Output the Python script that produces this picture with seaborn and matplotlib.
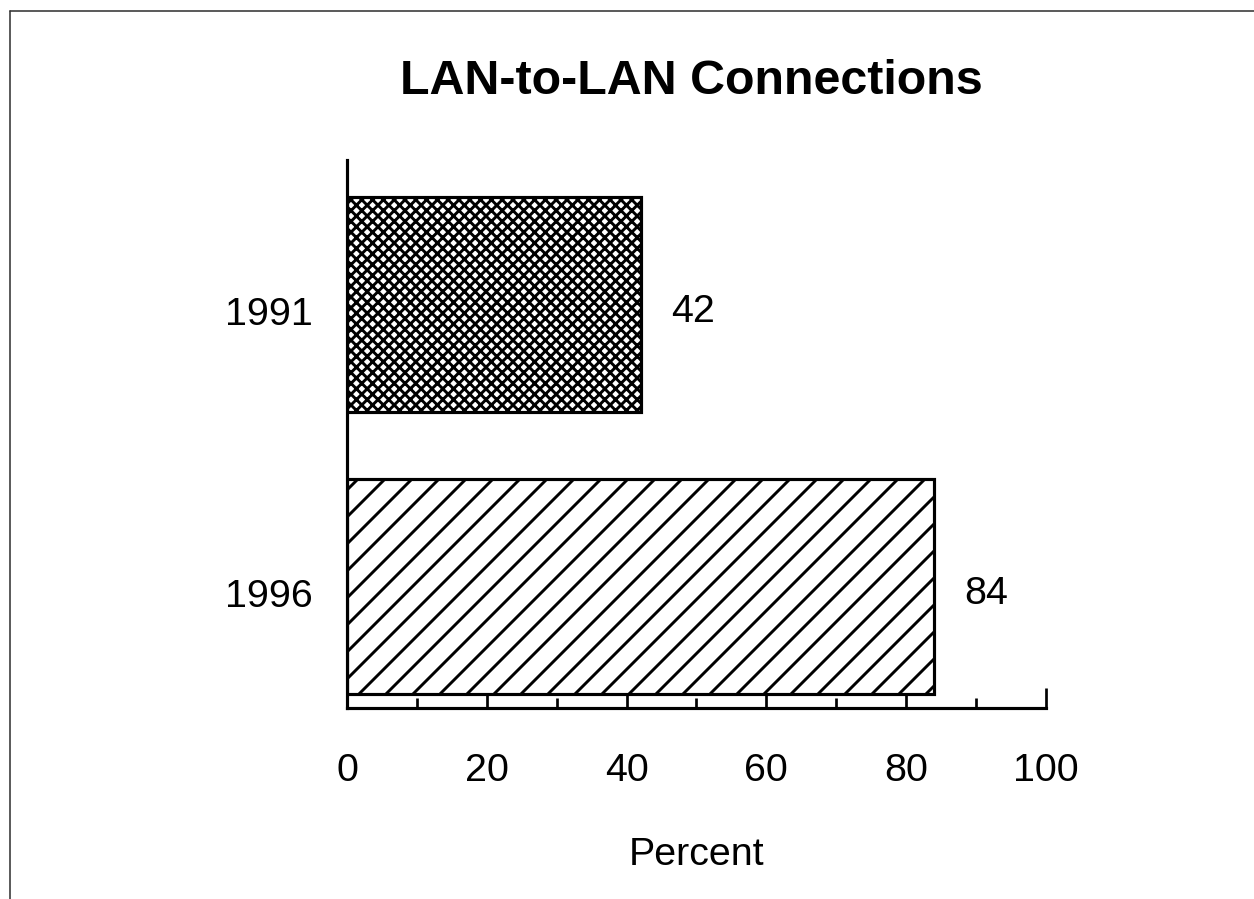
import matplotlib
matplotlib.use("Agg")
import matplotlib.pyplot as plt
from matplotlib.lines import Line2D
from matplotlib.transforms import ScaledTranslation
import seaborn as sns
import pandas as pd

# data
years = ["1991", "1996"]
percent = [42, 84]
hatches = ["xxxxx", "//"]

DPI = 162

sns.set_style("white")
plt.rcParams["font.family"] = ["Liberation Sans", "DejaVu Sans"]
plt.rcParams["text.color"] = "black"
plt.rcParams["xtick.color"] = "black"
plt.rcParams["ytick.color"] = "black"
plt.rcParams["axes.labelcolor"] = "black"
plt.rcParams["hatch.linewidth"] = 1.3
plt.rcParams["hatch.color"] = "black"

df = pd.DataFrame({"year": years, "percent": percent})

fig = plt.figure(figsize=(1254 / DPI, 899 / DPI), dpi=DPI)
fig.patch.set_facecolor("white")
ax = fig.add_axes([0.2767, 0.2125, 0.5574, 0.6095])

sns.barplot(data=df, x="percent", y="year", orient="h", order=years,
            color="white", edgecolor="black", linewidth=1.4, width=0.76,
            ax=ax)
for bar, h in zip(ax.patches, hatches):
    bar.set_hatch(h)
    bar.set_facecolor("white")

labels = ax.bar_label(ax.containers[0], fmt="%d", padding=13.5, fontsize=17.5)
for lab in labels:
    lab.xyann = (13.5, -3.5)  # labels sit a little below bar centre in the scan

ax.set_xlim(0, 100)
ax.set_ylim(1.431, -0.512)
ax.set_xticks(range(0, 101, 20))
ax.set_xticks(range(10, 100, 20), minor=True)
ax.tick_params(axis="x", which="major", direction="in", length=8.9,
               width=1.2, pad=20, labelsize=17.5, bottom=True)
ax.tick_params(axis="x", which="minor", direction="in", length=4.4,
               width=1.2, bottom=True)
ax.tick_params(axis="y", length=0, pad=15, labelsize=17.5)

shift = ScaledTranslation(0, -7 / DPI, fig.dpi_scale_trans)
for lbl in ax.get_yticklabels():
    lbl.set_transform(lbl.get_transform() + shift)

sns.despine(ax=ax)
for s in ["left", "bottom"]:
    ax.spines[s].set_linewidth(1.4)
    ax.spines[s].set_color("black")

ax.set_ylabel("")
ax.set_xlabel("Percent", fontsize=17.5, labelpad=21.5)

fig.text(0.551, 0.909, "LAN-to-LAN Connections", ha="center", va="center",
         fontsize=21.5, fontweight="bold")

# frame from the scanned page
fig.add_artist(Line2D([10 / 1254, 10 / 1254], [0, 1 - 11 / 899],
                      transform=fig.transFigure, color="#333333", lw=0.7))
fig.add_artist(Line2D([10 / 1254, 1], [1 - 11 / 899, 1 - 11 / 899],
                      transform=fig.transFigure, color="#333333", lw=0.7))

fig.savefig("out.png", dpi=DPI)
